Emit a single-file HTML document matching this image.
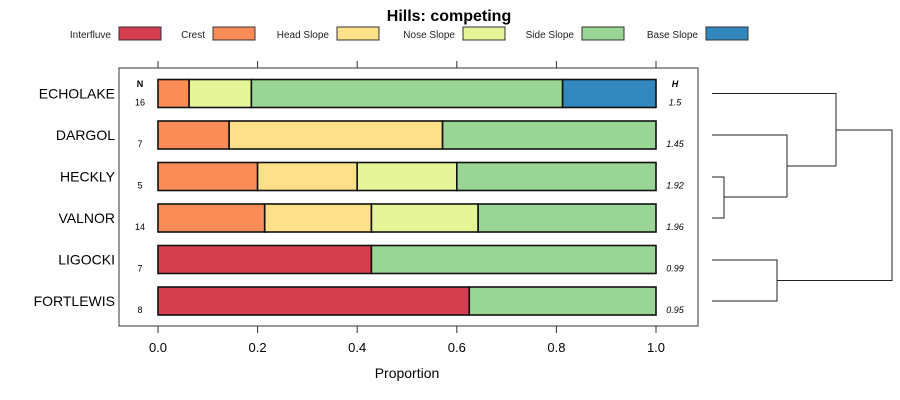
<!DOCTYPE html>
<html><head><meta charset="utf-8"><style>
body{margin:0;background:#fff;}
svg{display:block;font-family:"Liberation Sans",sans-serif;}
</style></head><body>
<svg id="c" width="900" height="400" xmlns="http://www.w3.org/2000/svg">
<text x="449" y="21" text-anchor="middle" font-size="16" font-weight="bold">Hills: competing</text>
<g id="legend"></g>
<rect x="119" y="68" width="579" height="258" fill="none" stroke="#333" stroke-width="1"/>
<g id="ticks"></g>
<g id="bars"></g>
<text x="140" y="87" text-anchor="middle" font-size="9" font-weight="bold">N</text>
<text x="675" y="87" text-anchor="middle" font-size="9" font-weight="bold" font-style="italic">H</text>
<text x="407" y="378" text-anchor="middle" font-size="14">Proportion</text>
<g id="dendro" fill="none" stroke="#222" stroke-width="1">
<path d="M712 93.5H836V166M712 135H787V197M712 177H724V218H712M724 197H787M787 166H836M836 130H892V280.5H777M712 260H777V301H712"/>
</g>
</svg>
<script>
const categories=["ECHOLAKE","DARGOL","HECKLY","VALNOR","LIGOCKI","FORTLEWIS"];
const classes=["Interfluve","Crest","Head Slope","Nose Slope","Side Slope","Base Slope"];
const colors=["#D53E4F","#FC8D59","#FEE08B","#E6F598","#99D594","#3288BD"];
const interfluve=[0,0,0,0,3/7,5/8];
const crest=[1/16,1/7,0.2,3/14,0,0];
const headSlope=[0,3/7,0.2,3/14,0,0];
const noseSlope=[2/16,0,0.2,3/14,0,0];
const sideSlope=[10/16,3/7,0.4,5/14,4/7,3/8];
const baseSlope=[3/16,0,0,0,0,0];
const nValues=["16","7","5","14","7","8"];
const hValues=["1.5","1.45","1.92","1.96","0.99","0.95"];
const xTicks=[0,0.2,0.4,0.6,0.8,1.0];
const tickLabels=["0.0","0.2","0.4","0.6","0.8","1.0"];
const NS="http://www.w3.org/2000/svg";
const xs=v=>158+v*498;
const ys=i=>93.5+i*41.5;
function mk(t,a,p){const e=document.createElementNS(NS,t);for(const k in a)e.setAttribute(k,a[k]);p.appendChild(e);return e;}
const series=[interfluve,crest,headSlope,noseSlope,sideSlope,baseSlope];
const bars=document.getElementById('bars');
categories.forEach((cat,i)=>{
  let acc=0;const y=ys(i);
  series.forEach((s,k)=>{const v=s[i];if(v<=0)return;
    const r=mk('rect',{x:xs(acc),y:y-14,width:xs(acc+v)-xs(acc),height:28,fill:colors[k],stroke:'#111','stroke-width':1.6},bars);
    
    
    acc+=v;});
  const l=mk('text',{x:115,y:y+5,'text-anchor':'end','font-size':14},bars);l.textContent=cat;
  
  
  const n=mk('text',{x:140,y:y+12,'text-anchor':'middle','font-size':9},bars);n.textContent=nValues[i];
  
  
  const h=mk('text',{x:675,y:y+12,'text-anchor':'middle','font-size':9,'font-style':'italic'},bars);h.textContent=hValues[i];
  
  
});
const tk=document.getElementById('ticks');
xTicks.forEach((t,i)=>{
  const a=mk('line',{x1:xs(t),x2:xs(t),y1:61,y2:68,stroke:'#333'},tk);
  
  
  const b=mk('line',{x1:xs(t),x2:xs(t),y1:326,y2:333,stroke:'#333'},tk);
  
  
  const tx=mk('text',{x:xs(t),y:352,'text-anchor':'middle','font-size':13},tk);tx.textContent=tickLabels[i];
  
  
});
const lg=document.getElementById('legend');
const boxX=[119,213,337,463,582,706];
classes.forEach((c,k)=>{
  const t=mk('text',{x:boxX[k]-8,y:38,'text-anchor':'end','font-size':10,fill:'#222'},lg);t.textContent=c;
  
  
  const r=mk('rect',{x:boxX[k],y:27,width:42,height:13,fill:colors[k],stroke:'#333'},lg);
  
  
});
</script>
</body></html>
